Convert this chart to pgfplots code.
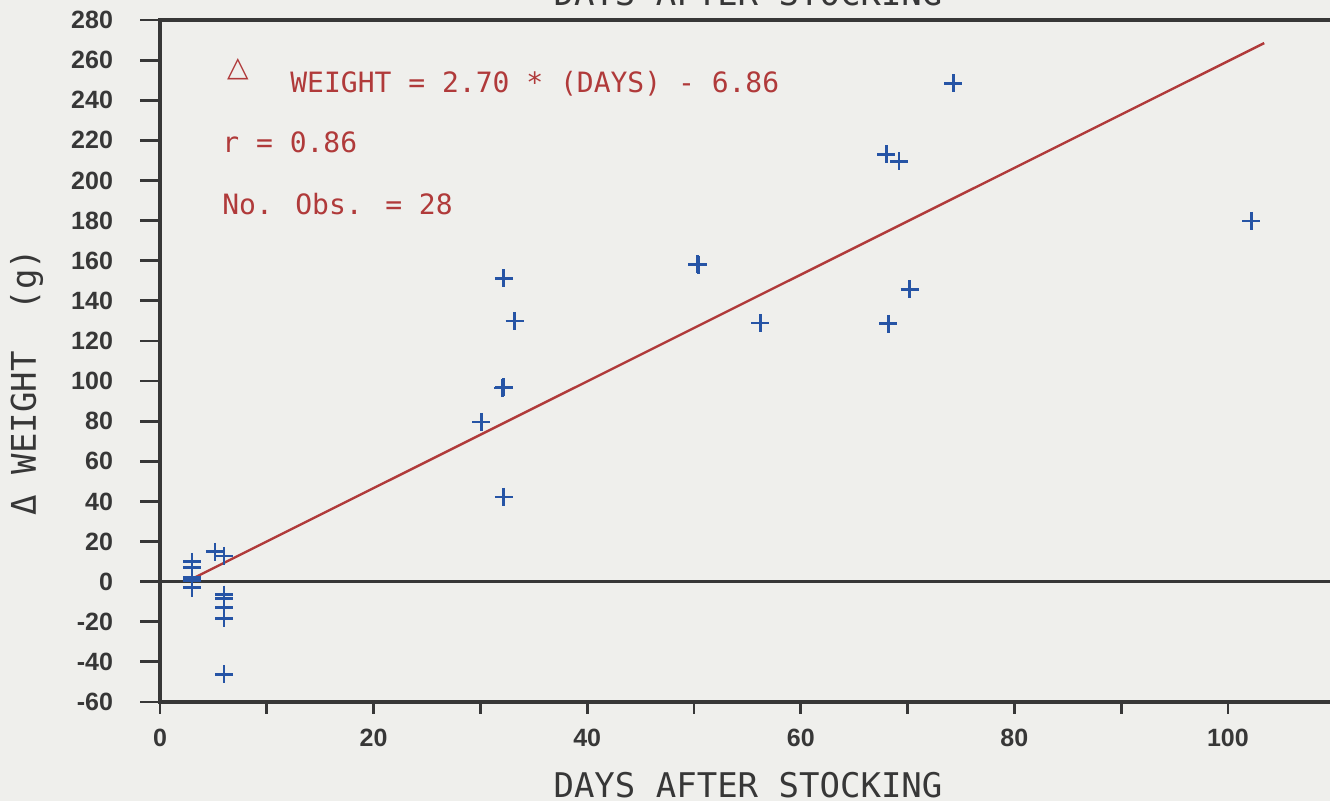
\documentclass[border=0pt]{standalone}
\usepackage{pgfplots}
\pgfplotsset{compat=1.18}
\usepackage{fontspec}
\setmainfont{DejaVu Sans Mono}
\newfontfamily\tickfont{Liberation Sans}
\newfontfamily\symfont{DejaVu Sans}
\definecolor{bg}{RGB}{239,239,236}
\definecolor{ptblue}{RGB}{38,84,165}
\definecolor{fitred}{RGB}{176,58,58}
\definecolor{axgray}{RGB}{55,55,55}
\begin{document}
\begin{tikzpicture}
\fill[bg] (-80pt,-49.5pt) rectangle (585pt,351pt);
\begin{axis}[
  at={(0,0)}, anchor=south west,
  scale only axis, width=592.7pt, height=341pt,
  xmin=0, xmax=111, ymin=-60, ymax=280,
  clip=false,
  axis line style={axgray, line width=1.6pt},
  tick style={axgray, line width=1.4pt},
  tick align=outside,
  xtick pos=bottom, ytick pos=left,
  major tick length=10pt,
  xtick style={/pgfplots/major tick length=6pt, /pgfplots/minor tick length=6pt},
  xtick={0,20,...,100}, minor xtick={10,30,...,90},
  ytick={-60,-40,...,280},
  /pgf/number format/assume math mode=true,
  tick label style={font=\tickfont\bfseries\fontsize{12.5}{14}\selectfont, text=axgray},
  yticklabel={\pgfmathprintnumber{\tick}\kern10pt},
]
\addplot[axgray, line width=1.4pt] coordinates {(0,0) (111,0)};
\addplot[fitred, line width=1.2pt] coordinates {(3,1.4) (103.4,268.5)};
\addplot[only marks, mark=+, mark size=4.5pt, ptblue, mark options={line width=1.4pt}] coordinates {
(3,9.9) (3,6.9) (3,2.1) (3,1) (3,0.3) (3,-3)
(5.15,14.9)
(6,12.8) (6,-6.5) (6,-8.5) (6,-12.8) (6,-18.3) (6,-46.1)
(30.1,79.6)
(32.2,151.3) (32.1,96.5) (32.2,96.8) (32.2,42.2)
(33.2,129.9)
(50.3,158.3) (50.4,158.0)
(56.2,128.9)
(68.2,128.5)
(70.2,145.8)
(68.0,213.1)
(69.2,209.6)
(74.3,248.5)
(102.2,179.8)
};
\node[anchor=base, inner sep=0pt, text=axgray, font=\fontsize{17}{17}\selectfont] at (axis cs:55.06,287) {DAYS AFTER STOCKING};
\node[anchor=base, inner sep=0pt, text=axgray, font=\fontsize{17}{17}\selectfont] at (axis cs:55.06,-107.4) {DAYS AFTER STOCKING};
\node[rotate=90, anchor=center, inner sep=0pt, text=axgray, font=\fontsize{17}{17}\selectfont] at (axis cs:-12.5,99.5) {Δ WEIGHT~~(g)};
\node[anchor=center, inner sep=0pt, text=fitred, font=\symfont\fontsize{14}{14}\selectfont] at (axis cs:7.3,255.5) {△};
\node[anchor=base west, inner sep=0pt, text=fitred, font=\fontsize{14}{14}\selectfont] at (axis cs:12.17,244.0) {WEIGHT = 2.70 * (DAYS) - 6.86};
\node[anchor=base west, inner sep=0pt, text=fitred, font=\fontsize{14}{14}\selectfont] at (axis cs:5.8,213.7) {r = 0.86};
\node[anchor=base west, inner sep=0pt, text=fitred, font=\fontsize{14}{14}\selectfont] at (axis cs:5.8,183.2) {No. Obs. = 28};
\end{axis}
\pgfresetboundingbox
\useasboundingbox (-80pt,-49.5pt) rectangle (585pt,351pt);
\end{tikzpicture}
\end{document}
